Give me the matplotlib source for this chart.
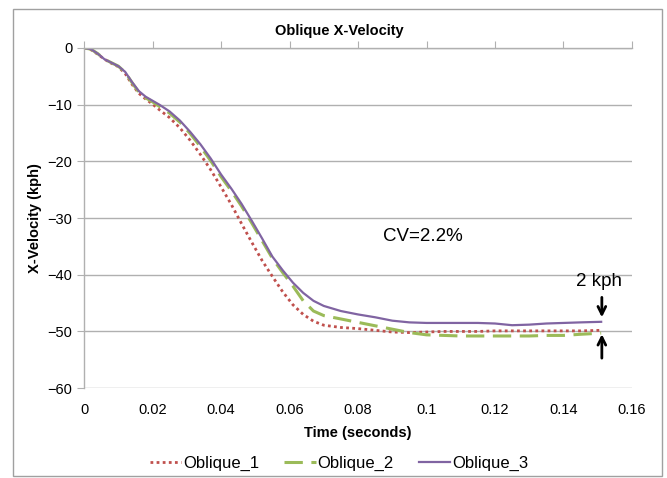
import matplotlib
matplotlib.use("Agg")
import matplotlib.pyplot as plt
from matplotlib.patches import Rectangle

plt.rcParams["font.family"] = ["Liberation Sans", "DejaVu Sans"]

# time (s) and x-velocity (kph)
TIME = [0, 0.002, 0.004, 0.006, 0.008, 0.010, 0.012, 0.014, 0.016, 0.018,
        0.020, 0.022, 0.025, 0.028, 0.031, 0.034, 0.037, 0.040, 0.043, 0.046,
        0.049, 0.052, 0.055, 0.058, 0.061, 0.064, 0.067, 0.070, 0.075, 0.080,
        0.085, 0.090, 0.095, 0.100, 0.105, 0.110, 0.115, 0.120, 0.125, 0.130,
        0.135, 0.140, 0.145, 0.151]

OBLIQUE_1 = [0, -0.3, -1.1, -2.0, -2.7, -3.3, -4.5, -6.4, -8.0, -9.0,
             -9.9, -10.9, -12.3, -14.1, -16.3, -18.8, -21.5, -24.5, -27.6, -31.0,
             -34.3, -37.5, -40.3, -43.0, -45.3, -47.0, -48.2, -48.9, -49.3, -49.5,
             -49.8, -50.1, -50.2, -50.1, -50.0, -50.0, -50.0, -49.9, -49.9, -49.9,
             -49.9, -49.9, -49.9, -49.8]

OBLIQUE_2 = [0, -0.2, -1.0, -2.0, -2.6, -3.2, -4.3, -6.1, -7.8, -8.8,
             -9.5, -10.3, -11.5, -13.1, -15.1, -17.4, -19.9, -22.7, -25.2, -27.9,
             -30.9, -34.0, -37.1, -39.6, -42.0, -44.6, -46.4, -47.2, -47.8, -48.4,
             -49.0, -49.6, -50.2, -50.6, -50.7, -50.8, -50.8, -50.8, -50.8, -50.8,
             -50.7, -50.7, -50.5, -50.3]

OBLIQUE_3 = [0, -0.2, -1.0, -2.0, -2.6, -3.2, -4.2, -6.0, -7.6, -8.6,
             -9.3, -10.0, -11.2, -12.8, -14.8, -17.0, -19.5, -22.3, -24.8, -27.5,
             -30.5, -33.6, -36.8, -39.2, -41.4, -43.2, -44.6, -45.5, -46.4, -47.0,
             -47.5, -48.1, -48.4, -48.5, -48.5, -48.5, -48.5, -48.6, -48.9, -48.8,
             -48.6, -48.5, -48.4, -48.3]

XTICKS = [0, 0.02, 0.04, 0.06, 0.08, 0.1, 0.12, 0.14, 0.16]
XTICK_LABELS = ["0", "0.02", "0.04", "0.06", "0.08", "0.1", "0.12", "0.14", "0.16"]
YTICKS = [0, -10, -20, -30, -40, -50, -60]

RED = "#C0504D"
GREEN = "#9BBB59"
PURPLE = "#8064A2"
GRID = "#B0B0B0"

fig = plt.figure(figsize=(6.67, 4.78), dpi=100)
ax = fig.add_axes([0.126, 0.188, 0.8215, 0.7116])

ax.plot(TIME, OBLIQUE_1, color=RED, lw=2.0, linestyle=(0, (1, 1.2)), label="Oblique_1")
ax.plot(TIME, OBLIQUE_2, color=GREEN, lw=2.2, linestyle=(0, (6, 2.8)), label="Oblique_2")
ax.plot(TIME, OBLIQUE_3, color=PURPLE, lw=1.6, label="Oblique_3")

ax.set_xlim(0, 0.16)
ax.set_ylim(-60, 0)
ax.set_xticks(XTICKS)
ax.set_xticklabels(XTICK_LABELS)
ax.set_yticks(YTICKS)
ax.yaxis.grid(True, color=GRID, lw=1)
ax.set_axisbelow(True)

for s in ("right", "bottom"):
    ax.spines[s].set_visible(False)
for s in ("top", "left"):
    ax.spines[s].set_color(GRID)
    ax.spines[s].set_linewidth(1)

ax.tick_params(axis="x", top=True, bottom=False, labeltop=False, labelbottom=True,
               direction="out", length=5, color=GRID, labelsize=10.5, pad=6)
ax.tick_params(axis="y", direction="out", length=5, color=GRID, labelsize=10.5)

ax.set_xlabel("Time (seconds)", fontsize=10.5, fontweight="bold", labelpad=6)
ax.set_ylabel("X-Velocity (kph)", fontsize=10.5, fontweight="bold", labelpad=4)
fig.text(0.508, 0.935, "Oblique X-Velocity", fontsize=10.5, fontweight="bold",
         ha="center", va="center")

ax.text(0.099, -33.3, "CV=2.2%", fontsize=13.5, ha="center", va="center")
ax.text(0.1505, -41.2, "2 kph", fontsize=13.5, ha="center", va="center")
ax.annotate("", xy=(0.1512, -48.0), xytext=(0.1512, -43.5),
            arrowprops=dict(arrowstyle="->", color="black", lw=2, mutation_scale=14))
ax.annotate("", xy=(0.1512, -50.0), xytext=(0.1512, -55.2),
            arrowprops=dict(arrowstyle="->", color="black", lw=2, mutation_scale=14))

ax.legend(loc="center", bbox_to_anchor=(0.465, -0.222), ncol=3, frameon=False,
          fontsize=12, handlelength=1.9, handletextpad=0.1, columnspacing=1.5)

fig.patches.append(Rectangle((0.0195, 0.004), 0.973, 0.978, transform=fig.transFigure,
                             fill=False, edgecolor="#A0A0A0", lw=1))

fig.savefig("out.png", dpi=100)
